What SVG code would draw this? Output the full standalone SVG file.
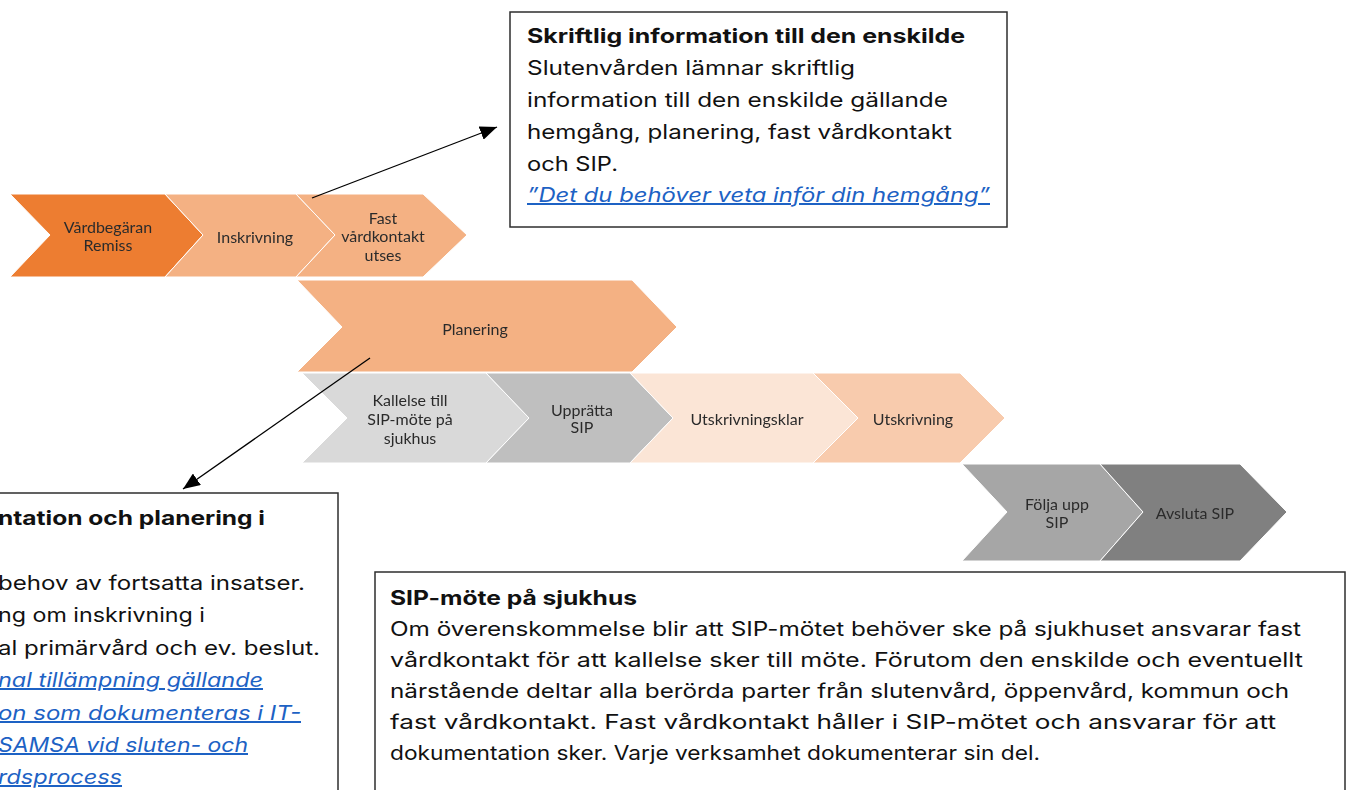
<svg xmlns="http://www.w3.org/2000/svg" width="1351" height="790" viewBox="0 0 1351 790">
  <defs>
    <style>
      .chev { stroke: #ffffff; stroke-width: 1; stroke-linejoin: miter; }
      .lbl { font-family: Lato, "Liberation Sans", sans-serif; font-size: 16px; fill: #2c2c2c; text-anchor: middle; dominant-baseline: central; }
      .box { fill: #ffffff; stroke: #2e2e2e; stroke-width: 1.5; }
      .txt { font-family: Inter, "Liberation Sans", sans-serif; font-size: 20px; fill: #111111; }
      .bold { font-weight: 700; }
      .link { fill: #1d62c4; font-style: italic; text-decoration: underline; }
      .conn { stroke: #000000; stroke-width: 1.3; fill: none; }
    </style>
    <marker id="arrow" markerUnits="userSpaceOnUse" markerWidth="18" markerHeight="14" refX="17" refY="7" orient="auto">
      <path d="M0,0 L17,7 L0,14 Z" fill="#000000"/>
    </marker>
    <filter id="soft" x="-5%" y="-20%" width="110%" height="140%">
      <feGaussianBlur stdDeviation="0.3"/>
    </filter>
  </defs>

  <rect width="1351" height="790" fill="#ffffff"/>

  <!-- process chevrons -->
  <g id="vardbegaran">
    <polygon class="chev" fill="#ED7D31" points="10,194 165,194 203,235 165,277 10,277 50,235"/>
    <g filter="url(#soft)"><text class="lbl" x="108" y="226">Vårdbegäran</text><text class="lbl" x="108" y="244">Remiss</text></g>
  </g>
  <g id="inskrivning">
    <polygon class="chev" fill="#F4B183" points="165,194 296,194 335,235 296,277 165,277 203,235"/>
    <g filter="url(#soft)"><text class="lbl" x="255" y="236">Inskrivning</text></g>
  </g>
  <g id="fast-vardkontakt">
    <polygon class="chev" fill="#F4B183" points="296,194 423,194 467,235 423,277 296,277 335,235"/>
    <g filter="url(#soft)"><text class="lbl" x="383" y="217">Fast</text><text class="lbl" x="383" y="235">vårdkontakt</text><text class="lbl" x="383" y="254">utses</text></g>
  </g>
  <g id="planering">
    <polygon class="chev" fill="#F4B183" points="297,280 632,280 677,327 632,372 297,372 342,327"/>
    <g filter="url(#soft)"><text class="lbl" x="475" y="328">Planering</text></g>
  </g>
  <g id="kallelse">
    <polygon class="chev" fill="#D9D9D9" points="302,373 486,373 529,418 486,463 302,463 347,418"/>
    <g filter="url(#soft)"><text class="lbl" x="410" y="399">Kallelse till</text><text class="lbl" x="410" y="418">SIP-möte  på</text><text class="lbl" x="410" y="437">sjukhus</text></g>
  </g>
  <g id="uppratta">
    <polygon class="chev" fill="#BFBFBF" points="486,373 630,373 673,418 630,463 486,463 529,418"/>
    <g filter="url(#soft)"><text class="lbl" x="582" y="409">Upprätta</text><text class="lbl" x="582" y="426">SIP</text></g>
  </g>
  <g id="utskrivningsklar">
    <polygon class="chev" fill="#FBE5D6" points="630,373 813,373 858,418 813,463 630,463 673,418"/>
    <g filter="url(#soft)"><text class="lbl" x="747" y="418">Utskrivningsklar</text></g>
  </g>
  <g id="utskrivning">
    <polygon class="chev" fill="#F8CBAD" points="813,373 960,373 1005,418 960,463 813,463 858,418"/>
    <g filter="url(#soft)"><text class="lbl" x="913" y="418">Utskrivning</text></g>
  </g>
  <g id="folja-upp">
    <polygon class="chev" fill="#A6A6A6" points="962,464 1100,464 1143,512 1100,561 962,561 1007,512"/>
    <g filter="url(#soft)"><text class="lbl" x="1057" y="503">Följa upp</text><text class="lbl" x="1057" y="521">SIP</text></g>
  </g>
  <g id="avsluta">
    <polygon class="chev" fill="#808080" points="1100,464 1240,464 1287,512 1240,561 1100,561 1143,512"/>
    <g filter="url(#soft)"><text class="lbl" x="1195" y="512">Avsluta SIP</text></g>
  </g>

  <!-- information boxes -->
  <g id="skriftlig-info">
    <rect class="box" x="510" y="12" width="497" height="215"/>
    <text class="txt bold" x="527" y="43" textLength="438" lengthAdjust="spacingAndGlyphs">Skriftlig information till den enskilde</text>
    <text class="txt" x="527" y="75" textLength="328" lengthAdjust="spacingAndGlyphs">Slutenvården lämnar skriftlig</text>
    <text class="txt" x="527" y="107" textLength="421" lengthAdjust="spacingAndGlyphs">information till den enskilde gällande</text>
    <text class="txt" x="527" y="139" textLength="425" lengthAdjust="spacingAndGlyphs">hemgång, planering, fast vårdkontakt</text>
    <text class="txt" x="527" y="171" textLength="91" lengthAdjust="spacingAndGlyphs">och SIP.</text>
    <text class="txt link" x="527" y="202" textLength="463" lengthAdjust="spacingAndGlyphs">”Det du behöver veta inför din hemgång”</text>
  </g>

  <g id="dokumentation-planering">
    <rect class="box" x="-10" y="493" width="348" height="310"/>
    <text class="txt bold" x="-2" y="525" textLength="267" lengthAdjust="spacingAndGlyphs">ntation och planering i</text>
    <text class="txt" x="-2" y="590" textLength="307" lengthAdjust="spacingAndGlyphs">behov av fortsatta insatser.</text>
    <text class="txt" x="-2" y="622" textLength="207" lengthAdjust="spacingAndGlyphs">ng om inskrivning i</text>
    <text class="txt" x="-2" y="655" textLength="322" lengthAdjust="spacingAndGlyphs">al primärvård och ev. beslut.</text>
    <text class="txt link" x="-2" y="687" textLength="265" lengthAdjust="spacingAndGlyphs">nal tillämpning gällande</text>
    <text class="txt link" x="-2" y="720" textLength="303" lengthAdjust="spacingAndGlyphs">on som dokumenteras i IT-</text>
    <text class="txt link" x="-2" y="752" textLength="250" lengthAdjust="spacingAndGlyphs">SAMSA vid sluten- och</text>
    <text class="txt link" x="-2" y="784" textLength="124" lengthAdjust="spacingAndGlyphs">rdsprocess</text>
  </g>

  <g id="sip-mote">
    <rect class="box" x="375" y="572" width="970" height="240"/>
    <text class="txt bold" x="390" y="605" textLength="247" lengthAdjust="spacingAndGlyphs">SIP-möte på sjukhus</text>
    <text class="txt" x="390" y="636" textLength="911" lengthAdjust="spacingAndGlyphs">Om överenskommelse blir att SIP-mötet behöver ske på sjukhuset ansvarar fast</text>
    <text class="txt" x="390" y="667" textLength="913" lengthAdjust="spacingAndGlyphs">vårdkontakt för att kallelse sker till möte. Förutom den enskilde och eventuellt</text>
    <text class="txt" x="390" y="698" textLength="899" lengthAdjust="spacingAndGlyphs">närstående deltar alla berörda parter från slutenvård, öppenvård, kommun och</text>
    <text class="txt" x="390" y="729" textLength="886" lengthAdjust="spacingAndGlyphs">fast vårdkontakt. Fast vårdkontakt håller i SIP-mötet och ansvarar för att</text>
    <text class="txt" x="390" y="760" textLength="650" lengthAdjust="spacingAndGlyphs">dokumentation sker. Varje verksamhet dokumenterar sin del.</text>
  </g>

  <!-- connectors -->
  <g id="connectors">
    <line class="conn" x1="312" y1="198" x2="497" y2="127" marker-end="url(#arrow)"/>
    <line class="conn" x1="370" y1="358" x2="183" y2="489" marker-end="url(#arrow)"/>
  </g>
</svg>
